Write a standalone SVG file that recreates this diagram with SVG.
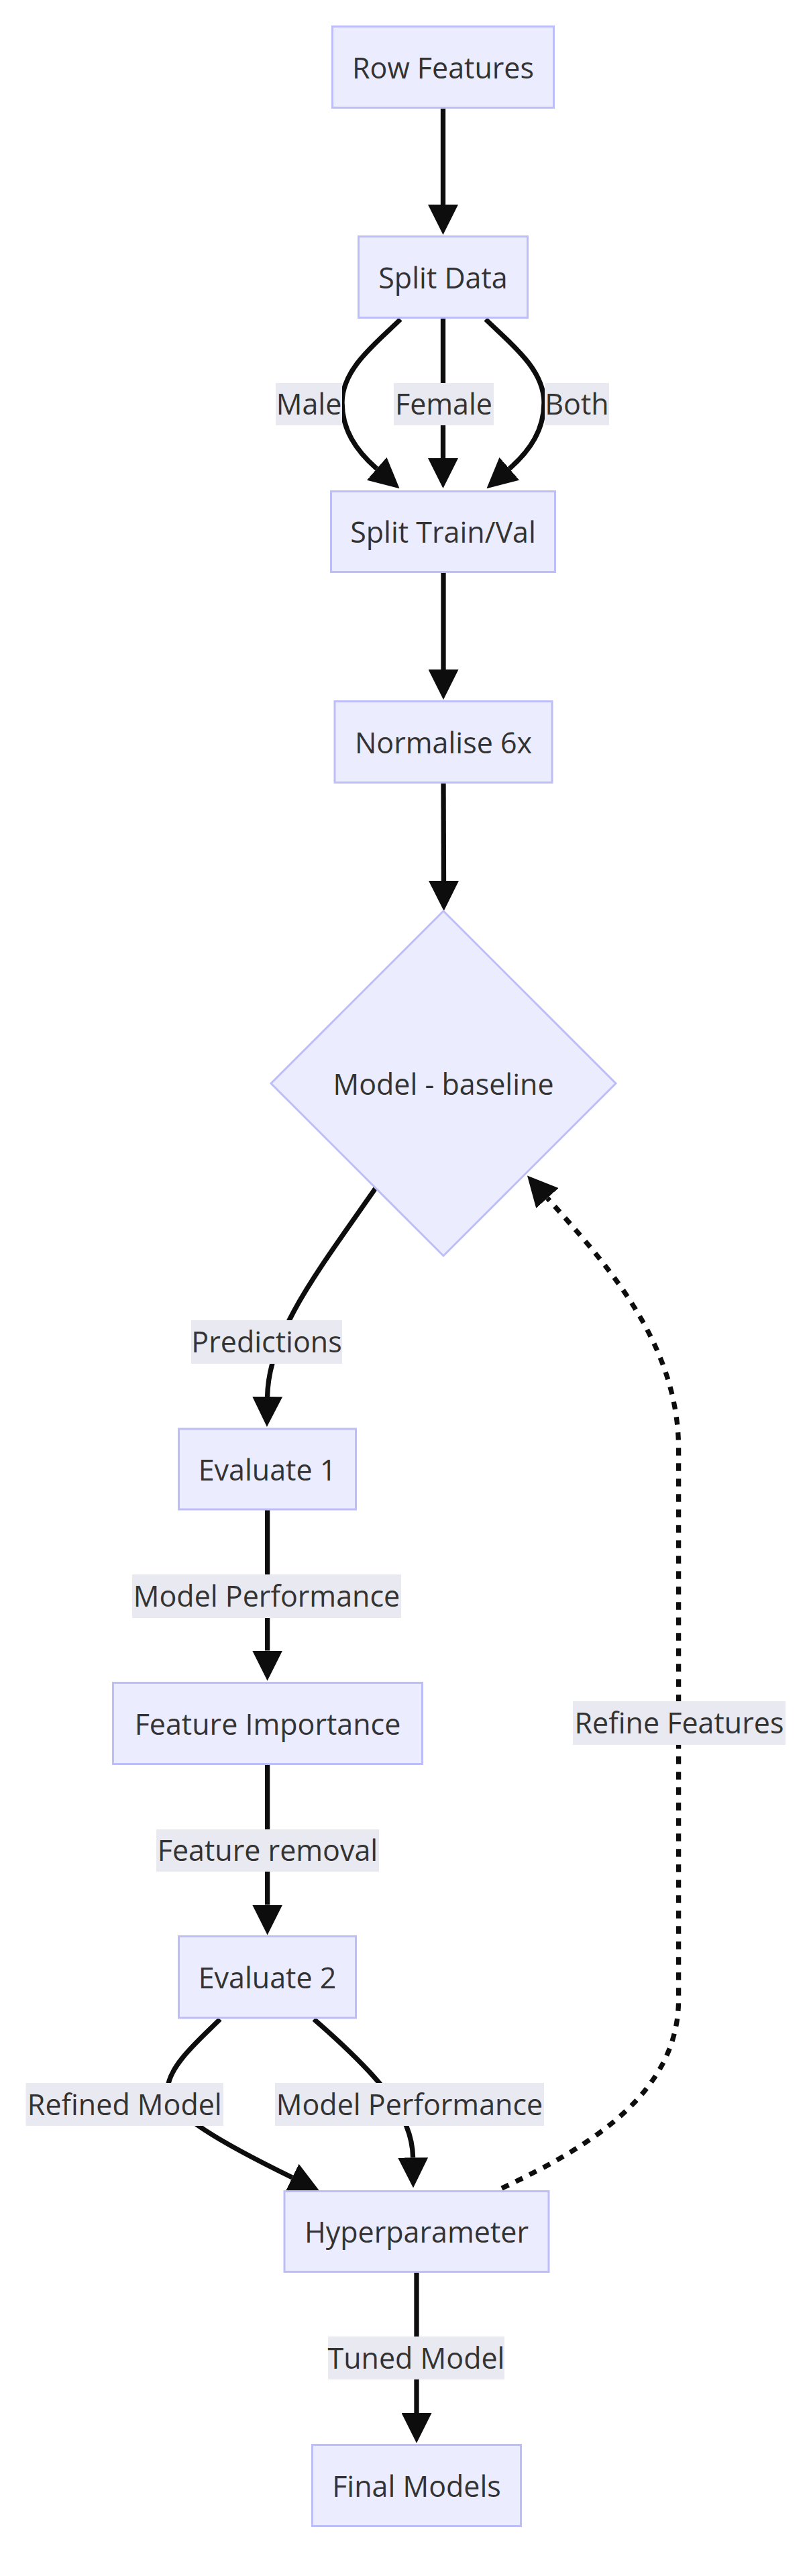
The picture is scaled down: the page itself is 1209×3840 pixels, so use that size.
<svg xmlns="http://www.w3.org/2000/svg" width="1209" height="3840" viewBox="0 0 1209 3840">
<style>
.node rect,.node polygon{fill:#ECECFF;stroke:#BDBDF8;stroke-width:3}
.node text,.lbl text{font-family:"Open Sans","Noto Sans","Liberation Sans",sans-serif;font-size:43px;fill:#333;text-anchor:middle}
.edge{fill:none;stroke:#0d0d0d;stroke-width:7.3;marker-end:url(#arr)}
.dot{stroke-dasharray:11.5 11.5}
.lbl rect{fill:#E9E9F1}
</style>
<defs>
<marker id="arr" markerUnits="userSpaceOnUse" viewBox="0 0 10 10" refX="0" refY="5" markerWidth="45" markerHeight="45" orient="auto">
<path d="M0,0 L10,5 L0,10 z" fill="#0d0d0d"/>
</marker>
</defs>
<rect width="1209" height="3840" fill="#ffffff"/>
<g id="connectors">
<path class="edge" d="M660.5,162 L660.5,305"/>
<path class="edge" d="M597,476 C560,512 510,550 510,600 C510,640 530,671 561.7,698.7"/>
<path class="edge" d="M660.5,475 L660.5,683"/>
<path class="edge" d="M724,476 C761,512 811,550 811,600 C811,640 791,671 759.3,698.7"/>
<path class="edge" d="M661,854 L661,998"/>
<path class="edge" d="M661,1168 L661.5,1313"/>
<path class="edge" d="M560,1771 C470,1900 400,1990 398.6,2082"/>
<path class="edge" d="M398.6,2251 L398.6,2460.6"/>
<path class="edge" d="M398.6,2631 L398.6,2839.5"/>
<path class="edge" d="M328,3010 C300,3038 250,3080 250,3115 C250,3150 336.7,3197.6 435.7,3246"/>
<path class="edge" d="M468,3010 C560,3090 615,3150 615.6,3216.4"/>
<path class="edge dot" d="M748,3262 C880,3200 1011.6,3120 1011.6,2980 L1011.6,2160 C1011.6,2000 900,1880 816,1786"/>
<path class="edge" d="M621,3388 L621,3597"/>
</g>
<g id="edge-labels">
<g class="lbl" id="l-male"><rect x="411" y="571" width="99" height="63"/><text x="460.5" y="618">Male</text></g>
<g class="lbl" id="l-female"><rect x="587" y="571" width="149" height="63"/><text x="661.5" y="618">Female</text></g>
<g class="lbl" id="l-both"><rect x="812" y="571" width="96" height="63"/><text x="860" y="618">Both</text></g>
<g class="lbl" id="l-pred"><rect x="285" y="1968" width="225" height="65"/><text x="397.5" y="2016">Predictions</text></g>
<g class="lbl" id="l-mp1"><rect x="197" y="2347" width="401" height="65"/><text x="397.5" y="2395">Model Performance</text></g>
<g class="lbl" id="l-fr"><rect x="233" y="2727" width="332" height="63"/><text x="399" y="2774">Feature removal</text></g>
<g class="lbl" id="l-rf"><rect x="854" y="2536" width="317" height="65"/><text x="1012.5" y="2584">Refine Features</text></g>
<g class="lbl" id="l-rm"><rect x="38.5" y="3105" width="294.5" height="64"/><text x="185.8" y="3153">Refined Model</text></g>
<g class="lbl" id="l-mp2"><rect x="410" y="3105" width="401" height="64"/><text x="610.5" y="3153">Model Performance</text></g>
<g class="lbl" id="l-tm"><rect x="489" y="3483" width="263" height="64"/><text x="620.5" y="3531">Tuned Model</text></g>
</g>
<g class="node" id="n-row"><rect x="495.5" y="39.5" width="330" height="121"/><text x="660.5" y="116.5">Row Features</text></g>
<g class="node" id="n-split"><rect x="534.5" y="352.5" width="252" height="121"/><text x="660.5" y="429.5">Split Data</text></g>
<g class="node" id="n-trainval"><rect x="493.5" y="732.5" width="334" height="120"/><text x="660.5" y="809">Split Train/Val</text></g>
<g class="node" id="n-norm"><rect x="499" y="1045.5" width="324" height="121"/><text x="661" y="1122.5">Normalise 6x</text></g>
<g class="node" id="n-model"><polygon points="661,1358 918,1615 661,1872 404,1615"/><text x="661" y="1631.5">Model - baseline</text></g>
<g class="node" id="n-eval1"><rect x="266.5" y="2130" width="264" height="120"/><text x="398.5" y="2206.5">Evaluate 1</text></g>
<g class="node" id="n-fi"><rect x="168.5" y="2508.5" width="461" height="121"/><text x="399" y="2585.5">Feature Importance</text></g>
<g class="node" id="n-eval2"><rect x="266.5" y="2886.5" width="264" height="121.5"/><text x="398.5" y="2963.5">Evaluate 2</text></g>
<g class="node" id="n-hyper"><rect x="424" y="3266.5" width="394" height="120"/><text x="621" y="3343">Hyperparameter</text></g>
<g class="node" id="n-final"><rect x="465.5" y="3644.5" width="311" height="121"/><text x="621" y="3721.5">Final Models</text></g>
</svg>
